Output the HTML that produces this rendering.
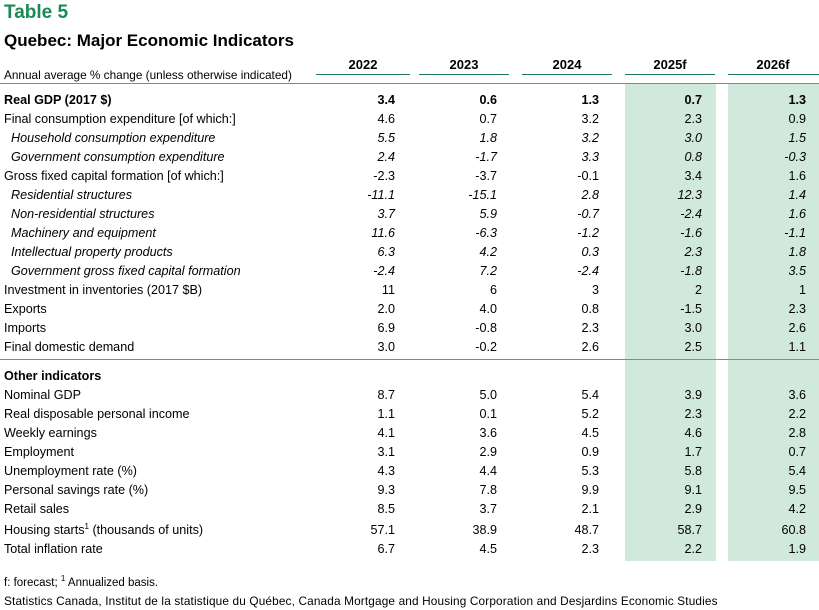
<!DOCTYPE html>
<html><head><meta charset="utf-8"><style>
body{margin:0;width:819px;height:610px;background:#fff;position:relative;overflow:hidden;font-family:"Liberation Sans",sans-serif;color:#000}
.a{position:absolute;white-space:nowrap}
.r{position:absolute;left:0;width:819px;height:19px;line-height:19px;font-size:12.6px}
.r span{position:absolute;top:0}
.l{left:4px}.i{font-style:italic;left:11px}
.c1{right:424px}.c2{right:322px}.c3{right:220px}.c4{right:117px}.c5{right:13px}
.b{font-weight:bold}
.sh{position:absolute;background:#d1e9dc;top:84px;height:477px}
.ul{position:absolute;top:74px;height:1px;background:#1f7a4f}
</style></head><body>
<div class="sh" style="left:625px;width:91px"></div>
<div class="sh" style="left:728px;width:91px"></div>
<div class="a" style="left:4px;top:2px;font-size:19px;font-weight:bold;color:#1a8a55">Table 5</div>
<div class="a" style="left:4px;top:31px;font-size:17px;font-weight:bold">Quebec: Major Economic Indicators</div>
<div class="a" style="left:4px;top:68px;font-size:11.8px">Annual average % change (unless otherwise indicated)</div>
<div class="a b" style="left:316px;width:94px;top:57px;font-size:13px;text-align:center">2022</div>
<div class="a b" style="left:419px;width:90px;top:57px;font-size:13px;text-align:center">2023</div>
<div class="a b" style="left:522px;width:90px;top:57px;font-size:13px;text-align:center">2024</div>
<div class="a b" style="left:625px;width:90px;top:57px;font-size:13px;text-align:center">2025f</div>
<div class="a b" style="left:728px;width:90px;top:57px;font-size:13px;text-align:center">2026f</div>
<div class="ul" style="left:316px;width:94px"></div>
<div class="ul" style="left:419px;width:90px"></div>
<div class="ul" style="left:522px;width:90px"></div>
<div class="ul" style="left:625px;width:90px"></div>
<div class="ul" style="left:728px;width:91px"></div>
<div class="a" style="left:0;top:83px;width:819px;height:1px;background:#888"></div>
<div class="a" style="left:0;top:359px;width:819px;height:1px;background:#888"></div>

<div class="r b" style="top:91px"><span class="l">Real GDP (2017 $)</span><span class="c1">3.4</span><span class="c2">0.6</span><span class="c3">1.3</span><span class="c4">0.7</span><span class="c5">1.3</span></div>
<div class="r" style="top:110px"><span class="l">Final consumption expenditure [of which:]</span><span class="c1">4.6</span><span class="c2">0.7</span><span class="c3">3.2</span><span class="c4">2.3</span><span class="c5">0.9</span></div>
<div class="r" style="top:129px;font-style:italic"><span class="i">Household consumption expenditure</span><span class="c1">5.5</span><span class="c2">1.8</span><span class="c3">3.2</span><span class="c4">3.0</span><span class="c5">1.5</span></div>
<div class="r" style="top:148px;font-style:italic"><span class="i">Government consumption expenditure</span><span class="c1">2.4</span><span class="c2">-1.7</span><span class="c3">3.3</span><span class="c4">0.8</span><span class="c5">-0.3</span></div>
<div class="r" style="top:167px"><span class="l">Gross fixed capital formation [of which:]</span><span class="c1">-2.3</span><span class="c2">-3.7</span><span class="c3">-0.1</span><span class="c4">3.4</span><span class="c5">1.6</span></div>
<div class="r" style="top:186px;font-style:italic"><span class="i">Residential structures</span><span class="c1">-11.1</span><span class="c2">-15.1</span><span class="c3">2.8</span><span class="c4">12.3</span><span class="c5">1.4</span></div>
<div class="r" style="top:205px;font-style:italic"><span class="i">Non-residential structures</span><span class="c1">3.7</span><span class="c2">5.9</span><span class="c3">-0.7</span><span class="c4">-2.4</span><span class="c5">1.6</span></div>
<div class="r" style="top:224px;font-style:italic"><span class="i">Machinery and equipment</span><span class="c1">11.6</span><span class="c2">-6.3</span><span class="c3">-1.2</span><span class="c4">-1.6</span><span class="c5">-1.1</span></div>
<div class="r" style="top:243px;font-style:italic"><span class="i">Intellectual property products</span><span class="c1">6.3</span><span class="c2">4.2</span><span class="c3">0.3</span><span class="c4">2.3</span><span class="c5">1.8</span></div>
<div class="r" style="top:262px;font-style:italic"><span class="i">Government gross fixed capital formation</span><span class="c1">-2.4</span><span class="c2">7.2</span><span class="c3">-2.4</span><span class="c4">-1.8</span><span class="c5">3.5</span></div>
<div class="r" style="top:281px"><span class="l">Investment in inventories (2017 $B)</span><span class="c1">11</span><span class="c2">6</span><span class="c3">3</span><span class="c4">2</span><span class="c5">1</span></div>
<div class="r" style="top:300px"><span class="l">Exports</span><span class="c1">2.0</span><span class="c2">4.0</span><span class="c3">0.8</span><span class="c4">-1.5</span><span class="c5">2.3</span></div>
<div class="r" style="top:319px"><span class="l">Imports</span><span class="c1">6.9</span><span class="c2">-0.8</span><span class="c3">2.3</span><span class="c4">3.0</span><span class="c5">2.6</span></div>
<div class="r" style="top:338px"><span class="l">Final domestic demand</span><span class="c1">3.0</span><span class="c2">-0.2</span><span class="c3">2.6</span><span class="c4">2.5</span><span class="c5">1.1</span></div>
<div class="r b" style="top:367px"><span class="l">Other indicators</span></div>
<div class="r" style="top:386px"><span class="l">Nominal GDP</span><span class="c1">8.7</span><span class="c2">5.0</span><span class="c3">5.4</span><span class="c4">3.9</span><span class="c5">3.6</span></div>
<div class="r" style="top:405px"><span class="l">Real disposable personal income</span><span class="c1">1.1</span><span class="c2">0.1</span><span class="c3">5.2</span><span class="c4">2.3</span><span class="c5">2.2</span></div>
<div class="r" style="top:424px"><span class="l">Weekly earnings</span><span class="c1">4.1</span><span class="c2">3.6</span><span class="c3">4.5</span><span class="c4">4.6</span><span class="c5">2.8</span></div>
<div class="r" style="top:443px"><span class="l">Employment</span><span class="c1">3.1</span><span class="c2">2.9</span><span class="c3">0.9</span><span class="c4">1.7</span><span class="c5">0.7</span></div>
<div class="r" style="top:462px"><span class="l">Unemployment rate (%)</span><span class="c1">4.3</span><span class="c2">4.4</span><span class="c3">5.3</span><span class="c4">5.8</span><span class="c5">5.4</span></div>
<div class="r" style="top:481px"><span class="l">Personal savings rate (%)</span><span class="c1">9.3</span><span class="c2">7.8</span><span class="c3">9.9</span><span class="c4">9.1</span><span class="c5">9.5</span></div>
<div class="r" style="top:500px"><span class="l">Retail sales</span><span class="c1">8.5</span><span class="c2">3.7</span><span class="c3">2.1</span><span class="c4">2.9</span><span class="c5">4.2</span></div>
<div class="r" style="top:521px"><span class="l">Housing starts<sup style="font-size:8px;line-height:0">1</sup> (thousands of units)</span><span class="c1">57.1</span><span class="c2">38.9</span><span class="c3">48.7</span><span class="c4">58.7</span><span class="c5">60.8</span></div>
<div class="r" style="top:540px"><span class="l">Total inflation rate</span><span class="c1">6.7</span><span class="c2">4.5</span><span class="c3">2.3</span><span class="c4">2.2</span><span class="c5">1.9</span></div>
<div class="a" style="left:4px;top:574px;font-size:11.5px">f: forecast; <sup style="font-size:8px">1</sup> Annualized basis.</div>
<div class="a" style="left:4px;top:594px;font-size:11.8px;letter-spacing:0.15px">Statistics Canada, Institut de la statistique du Québec, Canada Mortgage and Housing Corporation and Desjardins Economic Studies</div>
</body></html>
